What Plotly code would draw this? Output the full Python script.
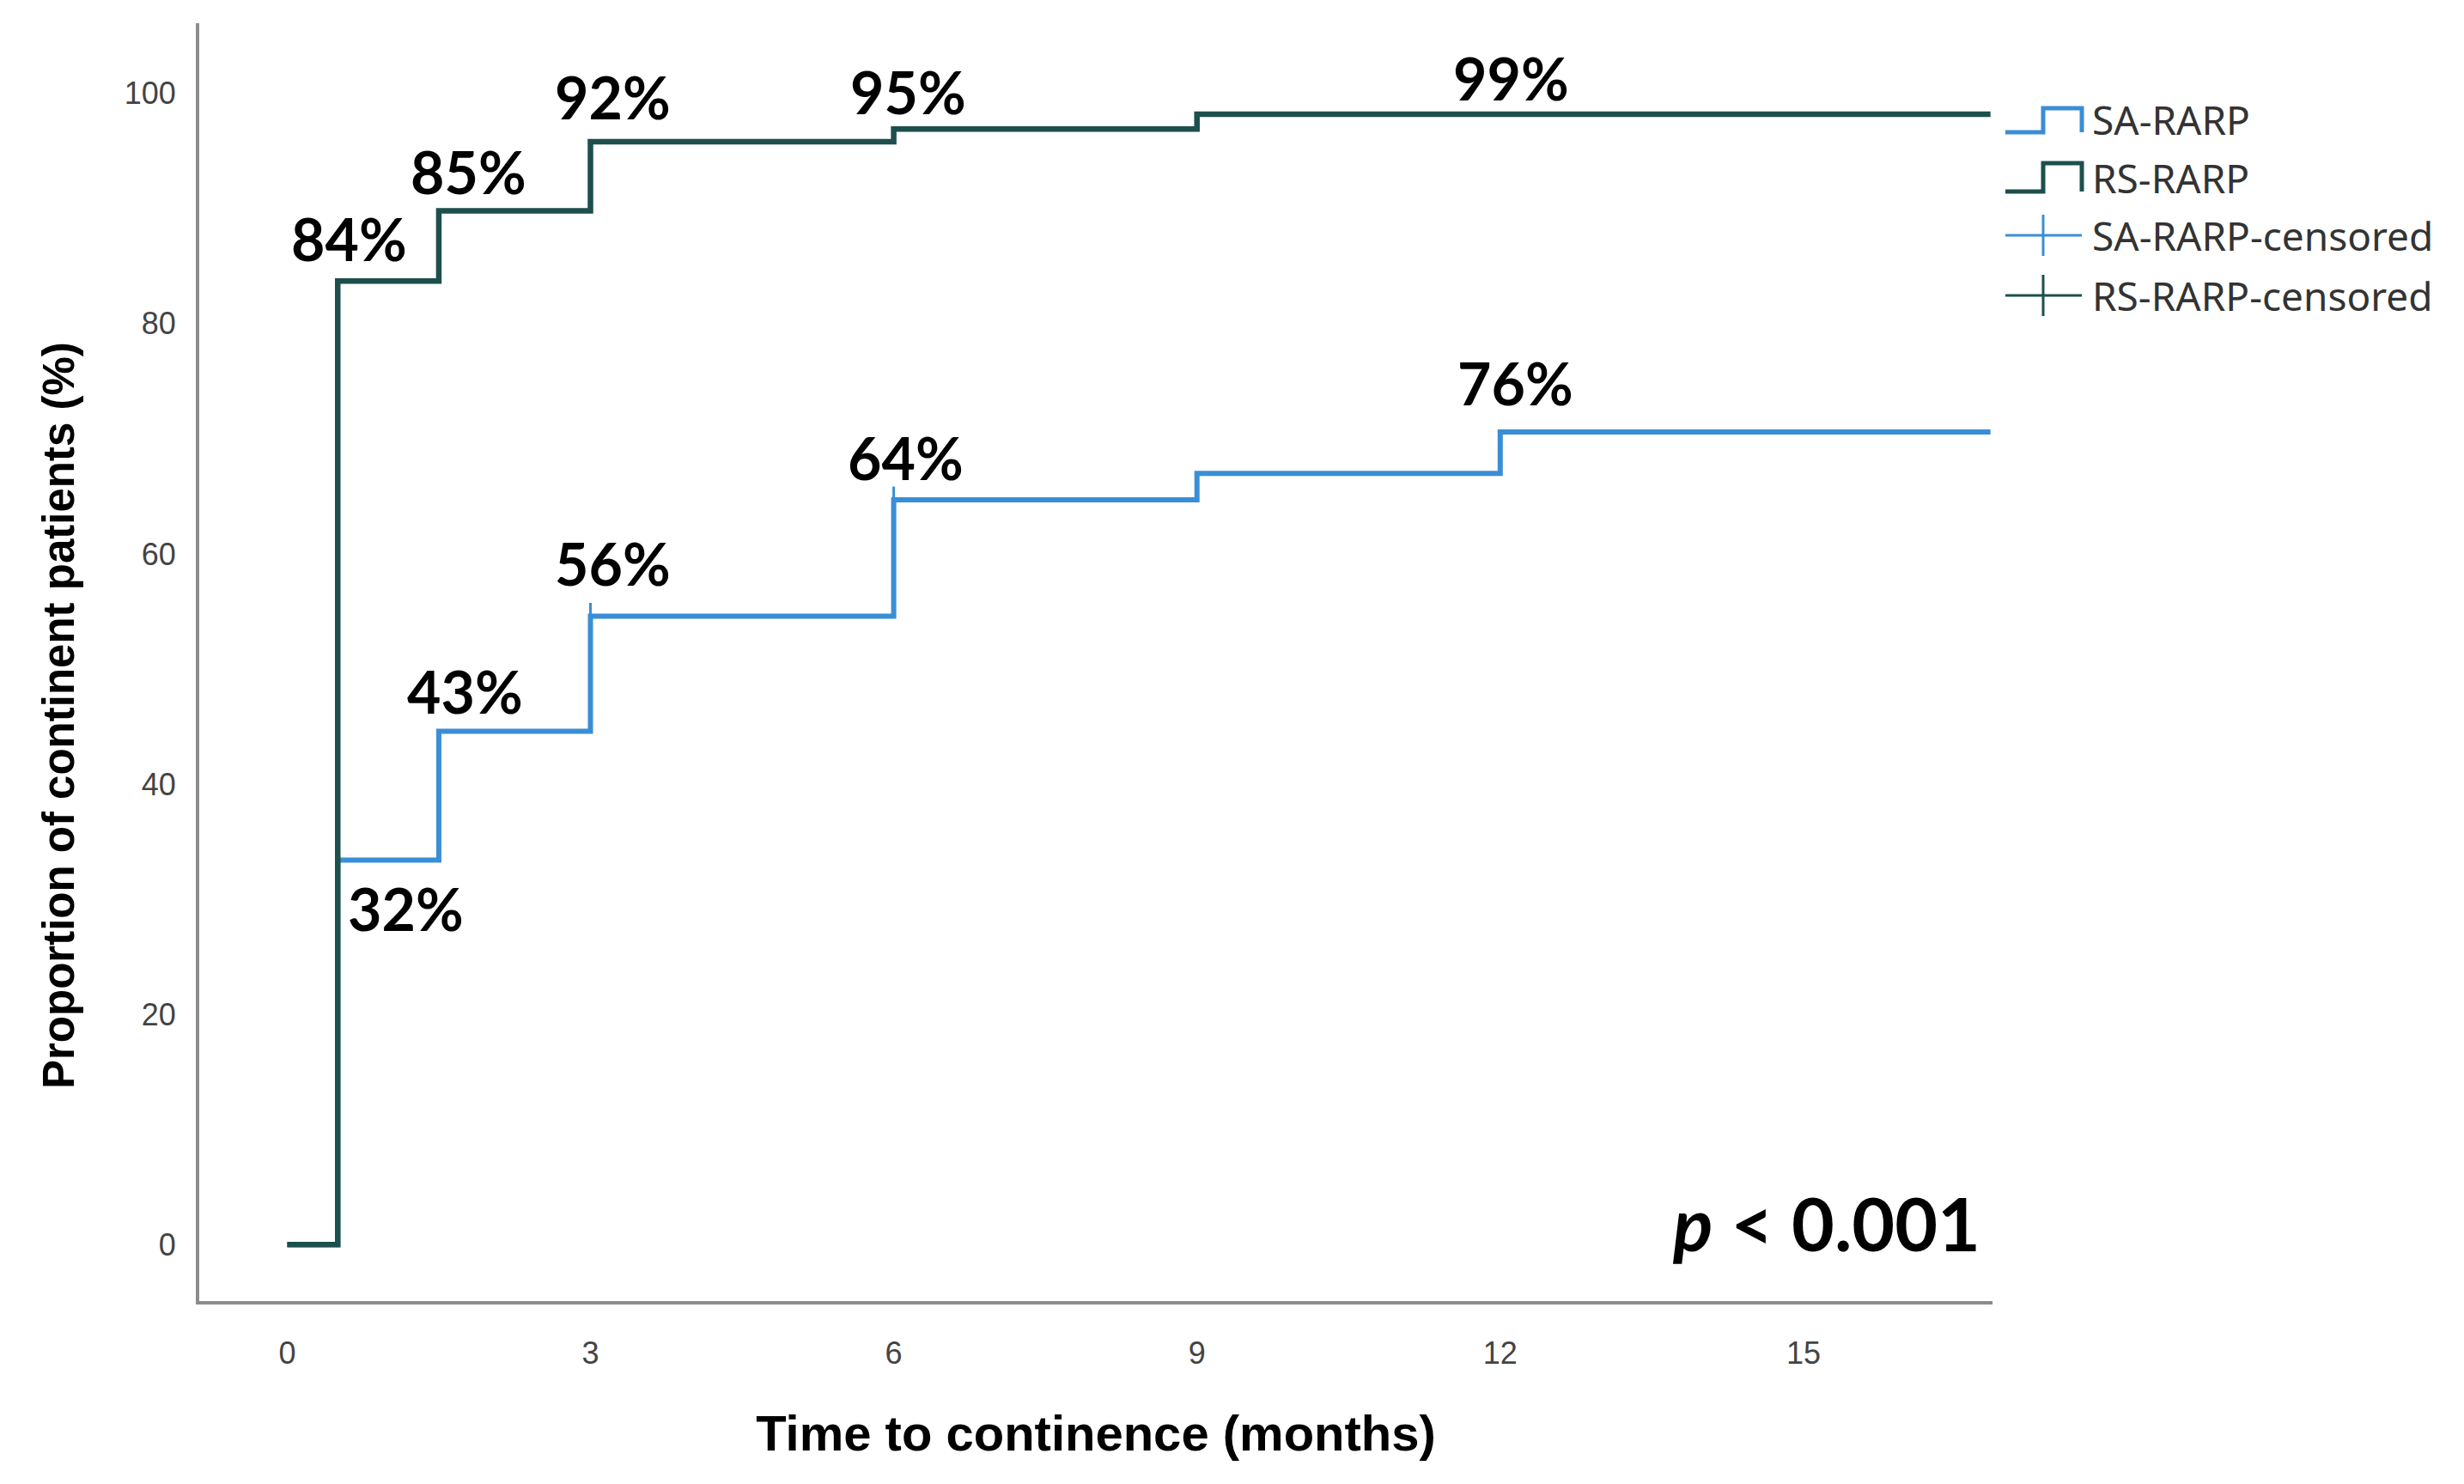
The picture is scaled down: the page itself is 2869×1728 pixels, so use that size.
import plotly.graph_objects as go

# ---------------- data ----------------
rs_times = [0, 0.5, 1.5, 3, 6, 9, 16.85]
rs_values = [0, 83.7, 89.8, 95.8, 96.9, 98.2, 98.2]

sa_times = [0, 0.5, 1.5, 3, 6, 9, 12, 16.85]
sa_values = [0, 33.4, 44.6, 54.6, 64.7, 67.0, 70.6, 70.6]

sa_censor_times = [3, 6]
sa_censor_values = [54.6, 64.7]

label_texts = ["84%", "85%", "92%", "95%", "99%", "32%", "43%", "56%", "64%", "76%"]
label_x = [0.61, 1.79, 3.22, 6.14, 12.11, 1.17, 1.76, 3.22, 6.12, 12.15]
label_y = [87.4, 93.2, 99.7, 100.2, 101.4, 29.2, 48.1, 59.2, 68.4, 74.9]

x_ticks = [0, 3, 6, 9, 12, 15]
y_ticks = [0, 20, 40, 60, 80, 100]

legend_names = ["SA-RARP", "RS-RARP", "SA-RARP-censored", "RS-RARP-censored"]

# ---------------- style ----------------
SA_COLOR = "#3a8ed6"
RS_COLOR = "#1d4f4c"
W, H = 2869, 1728
OFF = 8  # page body margin
L, R, T, B = 232 - OFF, 2320 - OFF, 27 - OFF, 1515 - OFF

def px(X):
    return (X - OFF - L) / (R - L)

def py(Y):
    return (B - (Y - OFF)) / (B - T)

fig = go.Figure()
fig.add_trace(go.Scatter(x=sa_times, y=sa_values, mode="lines", line_shape="hv",
                         line=dict(color=SA_COLOR, width=6), name=legend_names[0], showlegend=False))
fig.add_trace(go.Scatter(x=rs_times, y=rs_values, mode="lines", line_shape="hv",
                         line=dict(color=RS_COLOR, width=6.5), name=legend_names[1], showlegend=False))
fig.add_trace(go.Scatter(x=sa_censor_times, y=sa_censor_values, mode="markers",
                         marker=dict(symbol="line-ns", size=22, line=dict(color=SA_COLOR, width=3)),
                         name=legend_names[2], showlegend=False))

annotations = []
for t, x, y in zip(label_texts, label_x, label_y):
    annotations.append(dict(x=x, y=y, xref="x", yref="y", text="<b>" + t + "</b>", showarrow=False,
                            font=dict(family="Lato", size=68, color="black"),
                            xanchor="center", yanchor="middle"))

annotations.append(dict(x=16.77, y=1.9, xref="x", yref="y", text="<b><i>p</i> < 0.001</b>", showarrow=False,
                        font=dict(family="Lato", size=86, color="black"), xanchor="right", yanchor="middle"))

# y-axis title (placed as in the reference, slightly below the plot centre)
annotations.append(dict(x=px(68), y=py(833), xref="paper", yref="paper",
                        text="<b>Proportion of continent patients (%)</b>", textangle=-90, showarrow=False,
                        font=dict(family="Liberation Sans", size=51, color="black"),
                        xanchor="center", yanchor="middle"))

# custom legend (pixel positions in the reference picture)
shapes = []
leg_x0, leg_xm, leg_x1 = 2335, 2379, 2424
rows = [139, 207, 274, 344]
for (low, top, color) in [(154, 126, SA_COLOR), (223, 190, RS_COLOR)]:
    path = "M {a},{b} L {c},{b} L {c},{d} L {e},{d} L {e},{f}".format(
        a=px(leg_x0), b=py(low), c=px(leg_xm), d=py(top), e=px(leg_x1), f=py(low))
    shapes.append(dict(type="path", path=path, xref="paper", yref="paper",
                       line=dict(color=color, width=5)))
for (yc, color) in [(274, SA_COLOR), (344, RS_COLOR)]:
    shapes.append(dict(type="line", xref="paper", yref="paper", x0=px(leg_x0), x1=px(leg_x1),
                       y0=py(yc), y1=py(yc), line=dict(color=color, width=3)))
    shapes.append(dict(type="line", xref="paper", yref="paper", x0=px(leg_xm), x1=px(leg_xm),
                       y0=py(yc - 24), y1=py(yc + 24), line=dict(color=color, width=3)))
for name, yc in zip(legend_names, rows):
    annotations.append(dict(x=px(2434), y=py(yc), xref="paper", yref="paper", text=name, showarrow=False,
                            font=dict(family="Noto Sans", size=46, color="#333333"),
                            xanchor="left", yanchor="middle"))

fig.update_layout(
    width=W, height=H,
    margin=dict(l=L, r=W - R, t=T, b=H - B),
    plot_bgcolor="white", paper_bgcolor="white",
    showlegend=False,
    annotations=annotations,
    shapes=shapes,
    xaxis=dict(range=[-0.87, 16.87], tickvals=x_ticks, ticktext=[str(v) for v in x_ticks],
               showgrid=False, zeroline=False, showline=True, linecolor="#8c8c8c", linewidth=4,
               ticks="", ticklabelstandoff=26,
               tickfont=dict(family="Liberation Sans", size=36, color="#444444"),
               title=dict(text="<b>Time to continence (months)</b>", standoff=54,
                          font=dict(family="Liberation Sans", size=58, color="black"))),
    yaxis=dict(range=[-4.9, 106.1], tickvals=y_ticks, ticktext=[str(v) for v in y_ticks],
               showgrid=False, zeroline=False, showline=True, linecolor="#8c8c8c", linewidth=4,
               ticks="", ticklabelstandoff=16,
               tickfont=dict(family="Liberation Sans", size=36, color="#444444")),
)

fig.write_html("out.html")
